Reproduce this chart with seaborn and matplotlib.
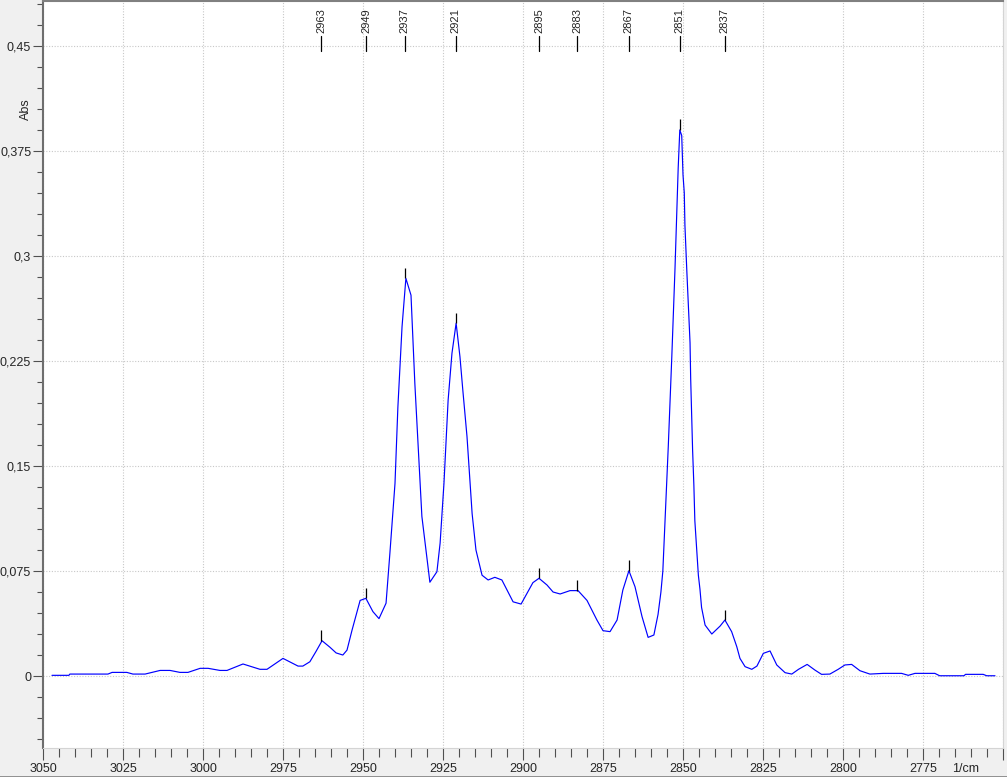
import numpy as np
import matplotlib
matplotlib.use('Agg')
import matplotlib.pyplot as plt
import matplotlib.transforms as mtransforms
from matplotlib.ticker import MultipleLocator
import seaborn as sns

# spectrum (1/cm, Abs)
wavenumber = [3047.2, 3041.9, 3041.6, 3029.7, 3028.4, 3023.8, 3021.9, 3018.1, 3013.4, 3010.3,
              3007.2, 3004.7, 3000.9, 2998.4, 2994.7, 2992.5, 2987.5, 2982.2, 2980.0, 2975.0,
              2970.3, 2968.8, 2966.6, 2964.7, 2962.8, 2960.3, 2958.4, 2956.3, 2955.0, 2953.4,
              2950.9, 2949.1, 2946.9, 2945.0, 2942.8, 2941.6, 2940.0, 2939.1, 2937.8, 2936.6,
              2935.0, 2933.8, 2932.8, 2931.6, 2930.6, 2929.1, 2926.9, 2925.9, 2924.7, 2923.4,
              2922.2, 2920.9, 2919.7, 2918.8, 2917.5, 2915.9, 2914.7, 2912.8, 2910.9, 2908.8,
              2906.6, 2903.1, 2900.6, 2896.9, 2895.0, 2892.5, 2890.6, 2888.4, 2885.3, 2882.8,
              2880.0, 2876.9, 2875.0, 2872.8, 2870.6, 2868.8, 2866.9, 2865.0, 2862.8, 2860.9,
              2859.1, 2857.8, 2856.9, 2856.3, 2855.6, 2854.6, 2853.5, 2852.5, 2851.5, 2851.0,
              2850.4, 2850.0, 2849.6, 2849.4, 2848.8, 2848.3, 2847.8, 2847.6, 2847.3, 2847.0,
              2846.6, 2846.3, 2845.7, 2845.2, 2844.7, 2844.2, 2843.1, 2841.0, 2838.4, 2836.9,
              2834.8, 2833.2, 2832.2, 2830.6, 2828.5, 2826.9, 2824.9, 2822.8, 2820.7, 2818.1,
              2816.0, 2813.9, 2811.2, 2808.8, 2806.7, 2804.1, 2801.5, 2799.4, 2797.3, 2794.7,
              2791.6, 2787.4, 2781.7, 2779.6, 2777.5, 2771.3, 2769.8, 2762.2, 2761.7, 2756.2,
              2755.1, 2752.5]
absorbance = [0.0005, 0.0005, 0.0014, 0.0014, 0.0026, 0.0026, 0.0014, 0.0014, 0.0040, 0.0040,
              0.0026, 0.0026, 0.0055, 0.0055, 0.0040, 0.0040, 0.0086, 0.0048, 0.0048, 0.0126,
              0.0071, 0.0071, 0.0102, 0.0175, 0.0252, 0.0205, 0.0165, 0.0150, 0.0185, 0.0330,
              0.0540, 0.0555, 0.0460, 0.0410, 0.0520, 0.0876, 0.1376, 0.1920, 0.2495, 0.2840,
              0.2720, 0.2090, 0.1660, 0.1140, 0.0950, 0.0670, 0.0745, 0.0950, 0.1376, 0.1970,
              0.2305, 0.2520, 0.2280, 0.2040, 0.1710, 0.1160, 0.0900, 0.0720, 0.0686, 0.0705,
              0.0686, 0.0530, 0.0514, 0.0667, 0.0698, 0.0650, 0.0600, 0.0586, 0.0610, 0.0610,
              0.0540, 0.0400, 0.0324, 0.0317, 0.0400, 0.0614, 0.0752, 0.0638, 0.0424, 0.0276,
              0.0293, 0.0440, 0.0600, 0.0750, 0.1110, 0.1640, 0.2280, 0.2910, 0.3630, 0.3900,
              0.3860, 0.3580, 0.3450, 0.3220, 0.2890, 0.2636, 0.2380, 0.2124, 0.1870, 0.1614,
              0.1360, 0.1110, 0.0900, 0.0720, 0.0620, 0.0490, 0.0364, 0.0300, 0.0357, 0.0400,
              0.0317, 0.0210, 0.0126, 0.0067, 0.0048, 0.0071, 0.0162, 0.0179, 0.0079, 0.0024,
              0.0014, 0.0048, 0.0083, 0.0043, 0.0012, 0.0014, 0.0048, 0.0079, 0.0083, 0.0038,
              0.0014, 0.0019, 0.0019, 0.0005, 0.0019, 0.0019, 0.0002, 0.0002, 0.0012, 0.0012,
              0.0002, 0.0002]

peak_positions = [2963, 2949, 2937, 2921, 2895, 2883, 2867, 2851, 2837]
x_ticks = [3050, 3025, 3000, 2975, 2950, 2925, 2900, 2875, 2850, 2825, 2800, 2775, 2750]
x_tick_labels = ['3050', '3025', '3000', '2975', '2950', '2925', '2900', '2875', '2850',
                 '2825', '2800', '2775', '']
y_ticks = [0, 0.075, 0.15, 0.225, 0.3, 0.375, 0.45]
y_tick_labels = ['0', '0,075', '0,15', '0,225', '0,3', '0,375', '0,45']

sns.set_style('white')
plt.rcParams['font.family'] = ['Liberation Sans', 'DejaVu Sans']

W, H = 1007, 777
fig = plt.figure(figsize=(W / 100, H / 100), dpi=100, facecolor='#f0f0f0')
ax = fig.add_axes([43 / W, 29 / H, 960 / W, 747 / H], facecolor='white')

sns.lineplot(x=wavenumber, y=absorbance, ax=ax, color='#0000ff', linewidth=0.85,
             estimator=None, sort=False)

ax.set_xlim(3050, 2750)
ax.set_ylim(-0.0514, 0.4821)
ax.set_xlabel('')
ax.set_ylabel('')

ax.set_xticks(x_ticks)
ax.set_xticklabels(x_tick_labels)
ax.xaxis.set_minor_locator(MultipleLocator(5))
ax.set_yticks(y_ticks)
ax.set_yticklabels(y_tick_labels)
ax.yaxis.set_minor_locator(MultipleLocator(0.015))

ax.tick_params(axis='x', which='major', direction='out', length=8.5, width=0.8,
               color='#505050', labelsize=9, pad=2, bottom=True)
ax.tick_params(axis='x', which='minor', direction='out', length=6.5, width=0.8,
               color='#505050', bottom=True)
ax.tick_params(axis='y', which='major', direction='out', length=7.5, width=0.8,
               color='#505050', labelsize=9, pad=1, left=True)
ax.tick_params(axis='y', which='minor', direction='out', length=4.5, width=0.8,
               color='#505050', left=True)

ax.grid(True, which='major', color='#c8c8c8', linestyle=(0, (1, 1.5)), linewidth=0.8)

ax.spines['left'].set_color('#6e6e6e')
ax.spines['left'].set_linewidth(1.5)
ax.spines['top'].set_color('#808080')
ax.spines['top'].set_linewidth(1.5)
ax.spines['right'].set_color('#d4d4d4')
ax.spines['right'].set_linewidth(0.8)
ax.spines['bottom'].set_color('#d4d4d4')
ax.spines['bottom'].set_linewidth(0.8)

# peak markers: short black tick on the curve and labelled marker at the top
wn = np.array(wavenumber)
ab = np.array(absorbance)
trans = mtransforms.blended_transform_factory(ax.transData, ax.transAxes)
for p in peak_positions:
    top = ab[np.abs(wn - p).argmin()]
    ax.vlines(p, top, top + 0.0075, color='black', linewidth=0.9, zorder=3)
    ax.plot([p, p], [0.933, 0.953], color='black', linewidth=0.9, transform=trans,
            clip_on=False)
    ax.text(p, 0.957, str(p), rotation=90, ha='center', va='bottom', fontsize=8,
            transform=trans)

fig.text(26 / W, 1 - 109 / H, 'Abs', rotation=90, ha='center', va='center', fontsize=9)
fig.text(952 / W, 1 - 769 / H, '1/cm', ha='left', va='center', fontsize=9)
fig.add_artist(plt.Line2D([0, 1], [0.5 / H, 0.5 / H], color='#808080', linewidth=1.2,
                          transform=fig.transFigure))

fig.savefig('out.png', dpi=100, facecolor=fig.get_facecolor())
